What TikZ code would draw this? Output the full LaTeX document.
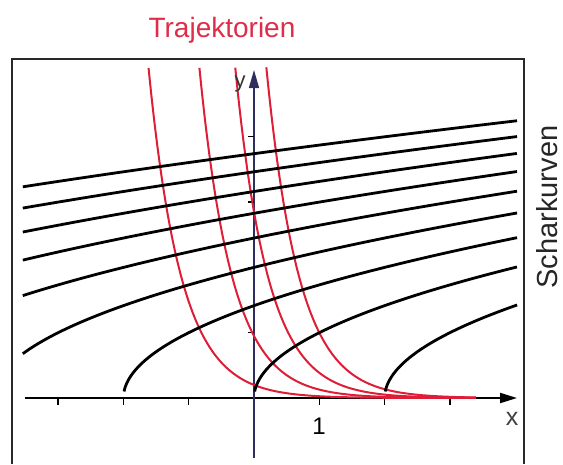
\documentclass[tikz,border=0pt]{standalone}
\usepackage{fontspec}
\setmainfont{Liberation Sans}
\usetikzlibrary{arrows.meta,calc}
\definecolor{trajred}{RGB}{222,30,55}
\definecolor{titlered}{RGB}{222,45,75}
\definecolor{axisblue}{RGB}{45,45,95}
\definecolor{framegray}{RGB}{40,40,40}
\begin{document}
\begin{tikzpicture}[x=1pt,y=-1pt,
  frameline/.style={draw=framegray,line width=1.3pt},
  xaxisline/.style={draw=black,line width=2pt,-{Triangle[length=17pt,width=10pt]}},
  yaxisline/.style={draw=axisblue,line width=1.4pt,-{Triangle[length=18pt,width=10pt]}},
  tickline/.style={draw=black,line width=1.3pt},
  trajline/.style={draw=trajred,line width=2pt},
  scharline/.style={draw=black,line width=2.8pt},
  lbl/.style={inner sep=0pt,anchor=base}]
\useasboundingbox (0,0) rectangle (563,464);
% frame
\coordinate (fbl) at (12,464);
\coordinate (ftl) at (12,59);
\coordinate (ftr) at (524,59);
\coordinate (fbr) at (524,464);
\draw[frameline] (fbl) -- (ftl) -- (ftr) -- (fbr);
% axes
\coordinate (O) at (254,398);
\coordinate (xs) at (25,398);
\coordinate (xe) at (517,398);
\coordinate (ys) at (254,458);
\coordinate (ye) at (254,70);
\draw[xaxisline] (xs) -- (xe);
\draw[yaxisline] (ys) -- (ye);
% ticks
\foreach \k in {-3,-2,-1,1,2,3}{
  \draw[tickline] ($(O)+(65.3*\k,0)$) -- ++(0,7);
}
\foreach \k in {1,2,3,4}{
  \draw[tickline] ($(O)+(0,-65.3*\k)$) -- ++(-6,0);
}
% trajectories y = C e^{-2x}
\foreach \C/\xa in {0.2/-1.615, 0.95/-0.836, 2.85/-0.287, 7.39/0.189}{
  \draw[trajline] plot[domain=\xa:3.4, samples=120, smooth, variable=\x]
    ({254+65.3*\x},{398-65.3*\C*exp(-2*\x)});
}
% family y^2 = x - c
\foreach \c in {2,0,-2,-4,-6,-8,-10,-12,-14}{
  \pgfmathsetmacro\tA{max(0.1,sqrt(max(0,-3.54-\c)))}
  \pgfmathsetmacro\tB{sqrt(4.03-\c)}
  \draw[scharline] plot[domain=\tA:\tB, samples=70, smooth, variable=\t]
    ({254+65.3*(\c+\t*\t)},{398-65.3*\t});
}
% labels
\node[lbl,text=titlered,font=\fontsize{28}{30}\selectfont] (title) at (222,37) {Trajektorien};
\node[lbl,rotate=90,text=black!85,font=\fontsize{29}{32}\selectfont] (schar) at (557,207) {Scharkurven};
\node[lbl,font=\fontsize{24}{26}\selectfont] (one) at (319,434) {1};
\node[lbl,text=black!75,font=\fontsize{25}{27}\selectfont] (xl) at (512,425) {x};
\node[lbl,text=black!80,font=\fontsize{22}{24}\selectfont] (yl) at (240,87) {y};
\end{tikzpicture}
\end{document}
